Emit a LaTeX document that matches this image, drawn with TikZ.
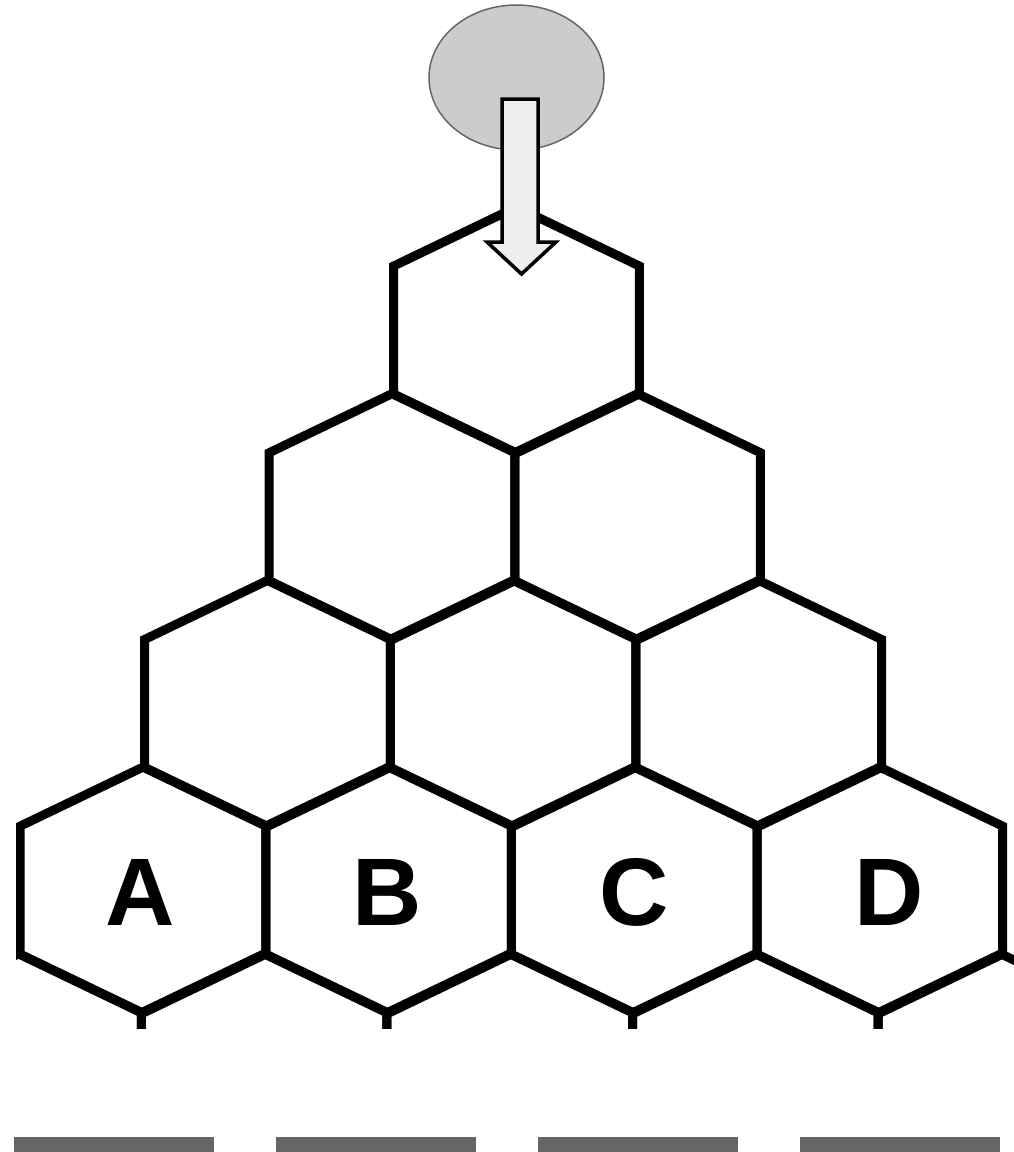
\documentclass[tikz,border=0pt]{standalone}
\usepackage{fontspec}
\setmainfont{Liberation Sans}
\usetikzlibrary{shapes.geometric}
\definecolor{ellfill}{HTML}{CCCCCC}
\definecolor{ellline}{HTML}{666666}
\definecolor{arrfill}{HTML}{EEEEEE}
\definecolor{barfill}{HTML}{666666}
\begin{document}
\begin{tikzpicture}[x=1pt,y=-1pt,
  hexcell/.style={draw=black,line width=9pt,line join=miter},
  letter/.style={font=\fontsize{96}{96}\selectfont\bfseries,inner sep=0pt},
  barbox/.style={fill=barfill,draw=none},
  blockarrow/.style={draw=black,fill=arrfill,line width=3.5pt,line join=miter}]
\useasboundingbox (0,0) rectangle (1014,1152);
\fill[white] (0,0) rectangle (1014,1152);
% honeycomb, clipped
\begin{scope}
\clip (16,0) rectangle (1014,1028);
\foreach \r in {1,2,3,4,5} {
  \pgfmathsetmacro\cy{330+(\r-1)*186.7}
  \pgfmathsetmacro\bx{516.5-(\r-1)*124.5}
  \foreach \k in {1,...,\r} {
    \draw[hexcell,shift={({\bx+(\k-1)*245.6},\cy)}]
      (0,-123) -- (122.8,-64) -- (122.8,64) -- (0,123) -- (-122.8,64) -- (-122.8,-64) -- cycle;
  }
}
\end{scope}
% source ellipse
\node[ellipse,draw=ellline,fill=ellfill,line width=1.5pt,minimum width=175pt,minimum height=145pt,inner sep=0pt] (src) at (516.5,77.5) {};
% block arrow
\draw[blockarrow] (502,99) -- (538,99) -- (538,242) -- (556,242) -- (521.5,274) -- (487,242) -- (502,242) -- cycle;
% labels
\node[letter] (la) at (140,892) {A};
\node[letter] (lb) at (387.5,892) {B};
\node[letter] (lc) at (633.7,892) {C};
\node[letter] (ld) at (889,892) {D};
% bins
\fill[barbox] (14,1137) rectangle (213.7,1152);
\fill[barbox] (276,1137) rectangle (475.7,1152);
\fill[barbox] (538,1137) rectangle (738,1152);
\fill[barbox] (800,1137) rectangle (1000,1152);
\end{tikzpicture}
\end{document}
